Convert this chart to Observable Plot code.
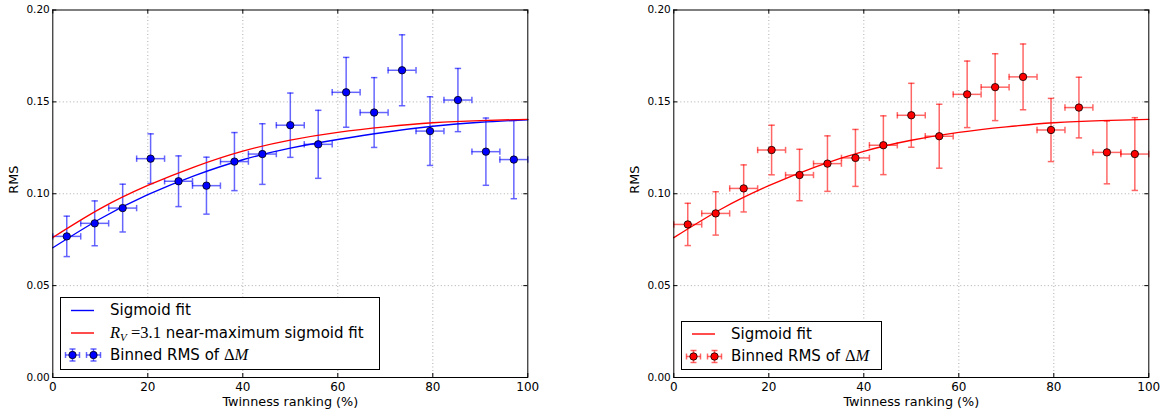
<!DOCTYPE html>
<html><head><meta charset="utf-8">
<script src="https://cdn.jsdelivr.net/npm/d3@7"></script>
<script src="https://cdn.jsdelivr.net/npm/@observablehq/plot@0.6"></script>
<style>
body{margin:0;background:#fff;font-family:"DejaVu Sans",sans-serif;}
#wrap{position:relative;width:1169px;height:412px;overflow:hidden;}
.panel{position:absolute;top:0;}
.legend{position:absolute;border:1px solid #000;background:#fff;box-sizing:border-box;}
.legend svg{position:absolute;left:0;top:0;}
.legend .t{position:absolute;font-size:15px;white-space:nowrap;line-height:1;transform:translateY(-50%);color:#000;}
.m{font-family:"Liberation Serif","DejaVu Serif",serif;font-size:16.5px;}
.mi{font-style:italic;}
sub{font-size:11px;vertical-align:-3px;line-height:0;}
</style></head>
<body><div id="wrap"></div>
<script>
const xTicks = [0, 20, 40, 60, 80, 100];
const yTicks = [0, 0.05, 0.10, 0.15, 0.20];
const binCenter = [2.94, 8.82, 14.71, 20.59, 26.47, 32.35, 38.24, 44.12, 50.00, 55.88, 61.76, 67.65, 73.53, 79.41, 85.29, 91.18, 97.06];
const binHalfWidth = [2.94, 2.94, 2.94, 2.94, 2.94, 2.94, 2.94, 2.94, 2.94, 2.94, 2.94, 2.94, 2.94, 2.94, 2.94, 2.94, 2.94];
const leftRms = [0.0768, 0.0839, 0.0922, 0.1191, 0.1068, 0.1044, 0.1175, 0.1216, 0.1373, 0.1269, 0.1552, 0.1442, 0.1672, 0.1341, 0.1510, 0.1229, 0.1186];
const leftErr = [0.0110, 0.0122, 0.0130, 0.0135, 0.0138, 0.0155, 0.0158, 0.0165, 0.0175, 0.0185, 0.0190, 0.0190, 0.0193, 0.0187, 0.0172, 0.0183, 0.0213];
const rightRms = [0.0833, 0.0893, 0.1029, 0.1238, 0.1102, 0.1164, 0.1195, 0.1264, 0.1427, 0.1313, 0.1541, 0.1580, 0.1636, 0.1347, 0.1469, 0.1225, 0.1216];
const rightErr = [0.0115, 0.0118, 0.0128, 0.0135, 0.0140, 0.0151, 0.0155, 0.0160, 0.0174, 0.0174, 0.0181, 0.0182, 0.0179, 0.0172, 0.0165, 0.0171, 0.0198];
const fitX = [0, 10, 20, 30, 40, 50, 60, 70, 80, 90, 100];
const leftSigmoid = [0.0706, 0.0864, 0.0995, 0.1100, 0.1185, 0.1248, 0.1295, 0.1335, 0.1367, 0.1389, 0.1403];
const leftRv31 = [0.0762, 0.0919, 0.1045, 0.1148, 0.1232, 0.1292, 0.1334, 0.1364, 0.1386, 0.1398, 0.1405];
const rightSigmoid = [0.0761, 0.0917, 0.1044, 0.1148, 0.1231, 0.1291, 0.1334, 0.1364, 0.1386, 0.1398, 0.1405];
const xLabel = "Twinness ranking (%)";
const yLabel = "RMS";

const BLUE = "#0000ff", RED = "#ff0000";
const H = 412, MT = 9.5, MB = 35, ML = 52.3;
const innerH = H - MT - MB;

const hcap = {draw(ctx, size){const r = Math.sqrt(size/Math.PI); ctx.moveTo(-r,0); ctx.lineTo(r,0);}};
const vcap = {draw(ctx, size){const r = Math.sqrt(size/Math.PI); ctx.moveTo(0,-r); ctx.lineTo(0,r);}};

function panel({rms, err, curves, color, width, marginRight}) {
  const innerW = width - ML - marginRight;
  const pts = binCenter.map((x, i) => ({x, xe: binHalfWidth[i], y: rms[i], e: err[i]}));
  const eb = {stroke: color, strokeOpacity: 0.6, strokeWidth: 1.5};
  const marks = [
    Plot.gridX(xTicks.slice(1, -1), {stroke: "#999", strokeOpacity: 1, strokeWidth: 0.8, strokeDasharray: "1,2.5"}),
    Plot.gridY(yTicks.slice(1, -1), {stroke: "#999", strokeOpacity: 1, strokeWidth: 0.8, strokeDasharray: "1,2.5"}),
    Plot.ruleX(pts, {x: "x", y1: d => d.y - d.e, y2: d => d.y + d.e, ...eb}),
    Plot.ruleY(pts, {y: "y", x1: d => d.x - d.xe, x2: d => d.x + d.xe, ...eb}),
    Plot.dot(pts, {x: "x", y: d => d.y + d.e, symbol: hcap, r: 3.2, fill: "none", ...eb}),
    Plot.dot(pts, {x: "x", y: d => d.y - d.e, symbol: hcap, r: 3.2, fill: "none", ...eb}),
    Plot.dot(pts, {x: d => d.x - d.xe, y: "y", symbol: vcap, r: 3.2, fill: "none", ...eb}),
    Plot.dot(pts, {x: d => d.x + d.xe, y: "y", symbol: vcap, r: 3.2, fill: "none", ...eb}),
    ...curves.map(c => Plot.line(fitX.map((x, i) => ({x, y: c.values[i]})), {x: "x", y: "y", stroke: c.color, strokeWidth: 1.4, curve: "natural"})),
    Plot.dot(pts, {x: "x", y: "y", r: 3.7, fill: color, stroke: "#000", strokeWidth: 0.8}),
    Plot.frame({stroke: "#000", strokeWidth: 1}),
    Plot.tickX(xTicks, {x: d => d, insetTop: innerH - 4, stroke: "#000"}),
    Plot.tickX(xTicks, {x: d => d, insetBottom: innerH - 4, stroke: "#000"}),
    Plot.tickY(yTicks, {y: d => d, insetRight: innerW - 4, stroke: "#000"}),
    Plot.tickY(yTicks, {y: d => d, insetLeft: innerW - 4, stroke: "#000"}),
    Plot.axisX(xTicks, {anchor: "bottom", tickSize: 0, tickPadding: 5, fontSize: 12, tickFormat: d => String(d), label: null, fill: "#000"}),
    Plot.axisY(yTicks, {anchor: "left", tickSize: 0, tickPadding: 3, fontSize: 10.5, tickFormat: d3.format(".2f"), label: null, fill: "#000"}),
    Plot.text([xLabel], {text: d => d, frameAnchor: "bottom", dy: 28.5, fontSize: 12.8, fill: "#000"}),
    Plot.text([yLabel], {text: d => d, frameAnchor: "left", rotate: -90, dx: -39, fontSize: 12.8, fill: "#000"})
  ];
  return Plot.plot({
    width, height: H, marginTop: MT, marginBottom: MB, marginLeft: ML, marginRight,
    style: {fontFamily: "DejaVu Sans", background: "#fff", color: "#000", overflow: "visible"},
    x: {domain: [0, 100], axis: null},
    y: {domain: [0, 0.2], axis: null},
    marks
  });
}

const wrap = document.getElementById("wrap");
const p1 = panel({rms: leftRms, err: leftErr, color: BLUE, width: 621, marginRight: 93.7,
  curves: [{values: leftSigmoid, color: BLUE}, {values: leftRv31, color: RED}]});
p1.classList.add("panel"); p1.style.left = "0px";
wrap.appendChild(p1);
const p2 = panel({rms: rightRms, err: rightErr, color: RED, width: 548, marginRight: 20.7,
  curves: [{values: rightSigmoid, color: RED}]});
p2.classList.add("panel"); p2.style.left = "621px";
wrap.appendChild(p2);

function errSymbol(cx, cy, color) {
  const a = 'stroke="' + color + '" stroke-opacity="0.6" stroke-width="1.5"';
  return `<line x1="${cx}" x2="${cx}" y1="${cy-6}" y2="${cy+6}" ${a}/>` +
    `<line x1="${cx-7}" x2="${cx+7}" y1="${cy}" y2="${cy}" ${a}/>` +
    `<line x1="${cx-3}" x2="${cx+3}" y1="${cy-6}" y2="${cy-6}" ${a}/>` +
    `<line x1="${cx-3}" x2="${cx+3}" y1="${cy+6}" y2="${cy+6}" ${a}/>` +
    `<line x1="${cx-7}" x2="${cx-7}" y1="${cy-3}" y2="${cy+3}" ${a}/>` +
    `<line x1="${cx+7}" x2="${cx+7}" y1="${cy-3}" y2="${cy+3}" ${a}/>` +
    `<circle cx="${cx}" cy="${cy}" r="3.7" fill="${color}" stroke="#000" stroke-width="0.8"/>`;
}
function legend({left, top, w, h, rows}) {
  const d = document.createElement("div");
  d.className = "legend";
  Object.assign(d.style, {left: left + "px", top: top + "px", width: w + "px", height: h + "px"});
  let svg = `<svg width="${w}" height="${h}">`;
  let html = "";
  for (const r of rows) {
    if (r.type === "line") svg += `<line x1="10" x2="33" y1="${r.y}" y2="${r.y}" stroke="${r.color}" stroke-width="1.4"/>`;
    else svg += errSymbol(11.5, r.y, r.color) + errSymbol(32.5, r.y, r.color);
    html += `<span class="t" style="left:49px;top:${r.y}px">${r.html}</span>`;
  }
  d.innerHTML = svg + "</svg>" + html;
  wrap.appendChild(d);
}
const dM = '<span class="m">Δ<span class="mi">M</span></span>';
legend({left: 60, top: 296.5, w: 320, h: 73, rows: [
  {type: "line", color: BLUE, y: 12.5, html: "Sigmoid fit"},
  {type: "line", color: RED, y: 35, html: '<span class="m"><span class="mi">R</span><sub class="mi">V</sub> =3.1</span> near-maximum sigmoid fit'},
  {type: "err", color: BLUE, y: 57, html: "Binned RMS of " + dM}
]});
legend({left: 681, top: 320.5, w: 201, h: 49, rows: [
  {type: "line", color: RED, y: 12, html: "Sigmoid fit"},
  {type: "err", color: RED, y: 34.5, html: "Binned RMS of " + dM}
]});
</script></body></html>
